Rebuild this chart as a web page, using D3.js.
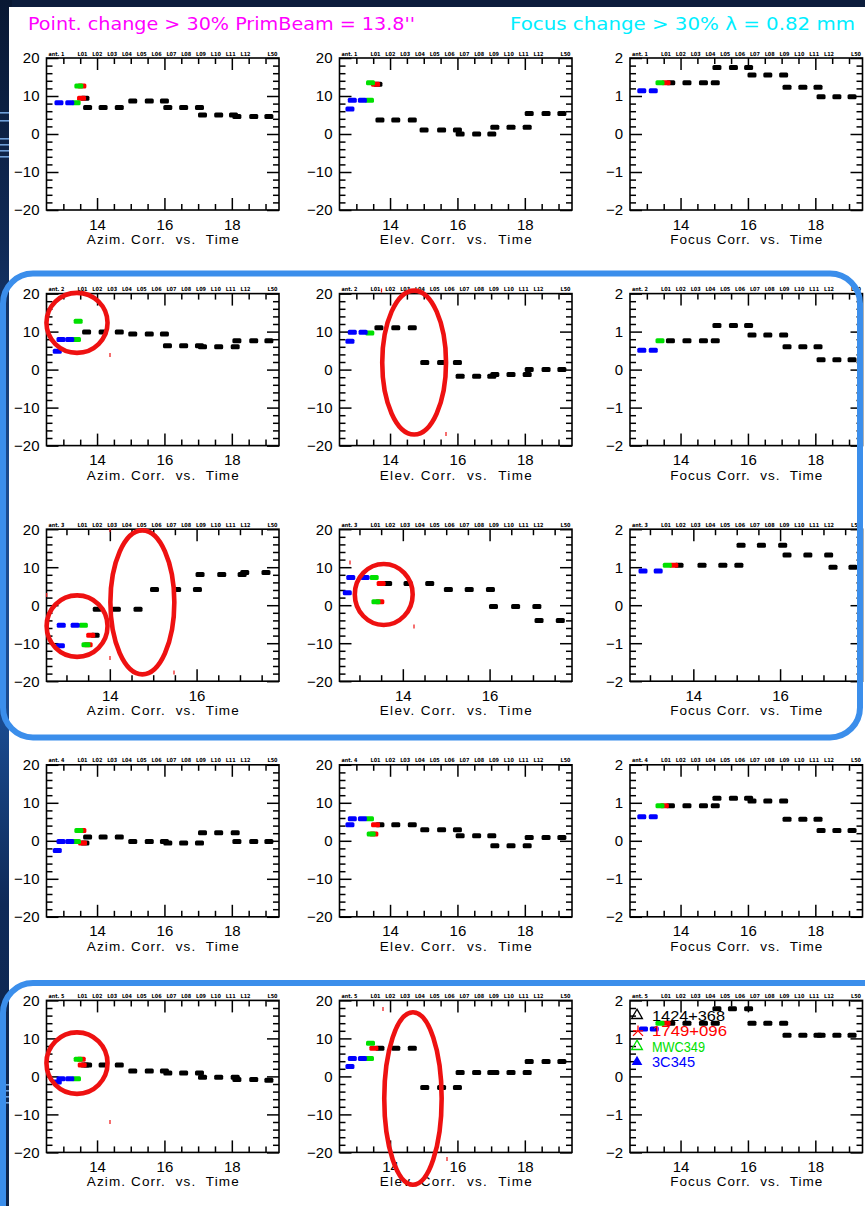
<!DOCTYPE html>
<html>
<head>
<meta charset="utf-8">
<script src="https://cdn.jsdelivr.net/npm/d3@7"></script>
<style>
  html, body { margin: 0; padding: 0; background: #0c1d3c; }
  svg { display: block; }
</style>
</head>
<body>
<svg id="chart" width="865" height="1206"></svg>
<script>
// ---- sources and labels ----
const sources = ["1424+368", "1749+096", "MWC349", "3C345"];
const sourceColors = ["#000000", "#ff0000", "#00e000", "#0000ff"];
const antennas = ["ant. 1", "ant. 2", "ant. 3", "ant. 4", "ant. 5"];
const scanLabels = ["L01", "L02", "L03", "L04", "L05", "L06", "L07", "L08", "L09", "L10", "L11", "L12"];
const lastScan = "L50";
const corrTitles = ["Azim. Corr.  vs.  Time", "Elev. Corr.  vs.  Time", "Focus Corr.  vs.  Time"];
const pointingTicks = [-20, -10, 0, 10, 20];
const focusTicks = [-2, -1, 0, 1, 2];
const hourTicks = [14, 16, 18];
const fullDay = [12.5, 19.4];
const shortDay = [12.54, 17.9];
const pointTitle = "Point. change > 30% PrimBeam = 13.8''";
const focusTitle = "Focus change > 30% \u03bb = 0.82 mm";

// ---- corrections: [hour, value, source index] ----
const ant1Azim = [
  [12.87, 8.2, 3], [13.19, 8.2, 3], [13.38, 8.2, 2], [13.46, 12.6, 2], [13.55, 12.6, 1],
  [13.54, 9.4, 1], [13.64, 9.4, 0],
  [13.72, 7.0, 0], [14.18, 7.0, 0], [14.66, 7.0, 0], [15.06, 8.7, 0], [15.55, 8.7, 0], [16.0, 8.7, 0],
  [16.1, 7.0, 0], [16.57, 7.0, 0], [17.04, 7.0, 0], [17.13, 5.0, 0], [17.61, 5.0, 0], [18.05, 5.0, 0],
  [18.15, 4.6, 0], [18.65, 4.6, 0], [19.1, 4.6, 0]
];
const ant1Elev = [
  [12.81, 6.6, 3], [12.88, 8.9, 3], [13.18, 8.9, 3], [13.39, 8.9, 2], [13.42, 13.5, 2], [13.57, 13.1, 1],
  [13.64, 13.1, 0], [13.7, 3.7, 0], [14.17, 3.7, 0], [14.66, 3.7, 0], [15.01, 1.05, 0], [15.53, 1.05, 0],
  [16.0, 1.05, 0], [16.08, 0, 0], [16.57, 0, 0], [17.02, 0, 0], [17.11, 1.8, 0], [17.59, 1.8, 0],
  [18.07, 1.8, 0], [18.13, 5.4, 0], [18.63, 5.4, 0], [19.1, 5.4, 0]
];
const ant1Focus = [
  [12.85, 1.14, 3], [13.19, 1.14, 3], [13.39, 1.35, 2], [13.57, 1.35, 1],
  [13.71, 1.35, 0], [14.19, 1.35, 0], [14.68, 1.35, 0], [15.03, 1.35, 0], [15.08, 1.75, 0], [15.57, 1.75, 0],
  [16.02, 1.75, 0], [16.12, 1.55, 0], [16.59, 1.55, 0], [17.06, 1.55, 0], [17.16, 1.23, 0], [17.63, 1.23, 0],
  [18.08, 1.23, 0], [18.17, 0.98, 0], [18.64, 0.98, 0], [19.09, 0.98, 0]
];
const ant2Azim = [
  [12.82, 4.8, 3], [12.93, 7.9, 3], [13.19, 7.9, 3], [13.39, 7.9, 2], [13.44, 12.7, 2],
  [13.69, 9.9, 0], [14.18, 9.9, 0], [14.66, 9.9, 0], [15.06, 9.4, 0], [15.55, 9.4, 0], [16.0, 9.4, 0],
  [16.09, 6.3, 0], [16.57, 6.3, 0], [17.04, 6.3, 0], [17.13, 6.0, 0], [17.61, 6.0, 0], [18.1, 6.0, 0],
  [18.15, 7.6, 0], [18.65, 7.6, 0], [19.1, 7.6, 0]
];
const ant2Elev = [
  [12.81, 7.45, 3], [12.88, 9.8, 3], [13.2, 9.8, 3], [13.4, 9.65, 2],
  [13.67, 11.0, 0], [14.17, 11.0, 0], [14.66, 11.0, 0], [15.03, 1.9, 0], [15.53, 1.9, 0], [16.0, 1.9, 0],
  [16.08, -1.75, 0], [16.57, -1.75, 0], [17.02, -1.75, 0], [17.11, -1.3, 0], [17.59, -1.3, 0], [18.07, -1.3, 0],
  [18.13, 0, 0], [18.63, 0, 0], [19.1, 0, 0]
];
const ant2Focus = [
  [12.85, 0.51, 3], [13.19, 0.51, 3], [13.39, 0.76, 2],
  [13.7, 0.76, 0], [14.19, 0.76, 0], [14.68, 0.76, 0], [15.03, 0.76, 0], [15.08, 1.16, 0], [15.57, 1.16, 0],
  [16.02, 1.16, 0], [16.12, 0.91, 0], [16.59, 0.91, 0], [17.06, 0.91, 0], [17.16, 0.6, 0], [17.63, 0.6, 0],
  [18.08, 0.6, 0], [18.17, 0.26, 0], [18.64, 0.26, 0], [19.09, 0.26, 0]
];
const ant3Azim = [
  [12.86, -10.7, 3], [12.88, -5.3, 3], [13.2, -5.3, 3], [13.39, -5.3, 2], [13.45, -10.4, 2],
  [13.5, -10.4, 1], [13.56, -7.9, 1], [13.66, -7.9, 0],
  [13.71, -1.05, 0], [14.15, -1.05, 0], [14.65, -1.05, 0], [15.03, 4.1, 0], [15.54, 4.1, 0], [16.02, 4.1, 0],
  [16.08, 8.1, 0], [16.58, 8.1, 0], [17.05, 8.1, 0], [17.11, 8.6, 0], [17.6, 8.6, 0]
];
const ant3Elev = [
  [12.72, 3.3, 3], [12.8, 7.3, 3], [13.13, 7.3, 3], [13.34, 7.3, 2], [13.38, 0.9, 2],
  [13.47, 0.9, 1], [13.5, 5.7, 1],
  [13.65, 5.7, 0], [14.12, 5.7, 0], [14.62, 5.7, 0], [15.05, 4.1, 0], [15.53, 4.1, 0], [16.02, 4.1, 0],
  [16.09, -0.35, 0], [16.6, -0.35, 0], [17.09, -0.35, 0], [17.14, -4.0, 0], [17.63, -4.0, 0]
];
const ant3Focus = [
  [12.84, 0.9, 3], [13.19, 0.9, 3], [13.4, 1.05, 2], [13.55, 1.05, 1],
  [13.67, 1.05, 0], [14.2, 1.05, 0], [14.68, 1.05, 0], [15.05, 1.05, 0], [15.1, 1.58, 0], [15.57, 1.58, 0],
  [16.06, 1.58, 0], [16.16, 1.32, 0], [16.64, 1.32, 0], [17.12, 1.32, 0], [17.22, 1.0, 0], [17.68, 1.0, 0]
];
const ant4Azim = [
  [12.82, -2.55, 3], [12.93, -0.2, 3], [13.19, -0.2, 3], [13.39, -0.2, 2], [13.46, 2.7, 2],
  [13.55, 2.7, 1], [13.57, -0.6, 1], [13.64, -0.6, 0],
  [13.72, 1.0, 0], [14.18, 1.0, 0], [14.66, 1.0, 0], [15.06, -0.2, 0], [15.55, -0.2, 0], [16.0, -0.2, 0],
  [16.1, -0.6, 0], [16.57, -0.6, 0], [17.04, -0.6, 0], [17.13, 2.1, 0], [17.61, 2.1, 0], [18.1, 2.1, 0],
  [18.15, -0.2, 0], [18.65, -0.2, 0], [19.1, -0.2, 0]
];
const ant4Elev = [
  [12.81, 4.2, 3], [12.88, 5.8, 3], [13.18, 5.8, 3], [13.39, 5.8, 2], [13.44, 1.8, 2],
  [13.52, 1.8, 1], [13.57, 4.2, 1],
  [13.7, 4.2, 0], [14.17, 4.2, 0], [14.66, 4.2, 0], [15.03, 2.9, 0], [15.53, 2.9, 0], [16.0, 2.9, 0],
  [16.08, 1.3, 0], [16.57, 1.3, 0], [17.02, 1.3, 0], [17.11, -1.3, 0], [17.59, -1.3, 0], [18.07, -1.3, 0],
  [18.13, 0.9, 0], [18.63, 0.9, 0], [19.1, 0.9, 0]
];
const ant4Focus = [
  [12.85, 0.63, 3], [13.19, 0.63, 3], [13.39, 0.92, 2], [13.52, 0.92, 1],
  [13.7, 0.92, 0], [14.19, 0.92, 0], [14.68, 0.92, 0], [15.03, 0.92, 0], [15.08, 1.12, 0], [15.57, 1.12, 0],
  [16.02, 1.12, 0], [16.12, 1.05, 0], [16.59, 1.05, 0], [17.06, 1.05, 0], [17.16, 0.57, 0], [17.63, 0.57, 0],
  [18.08, 0.57, 0], [18.17, 0.27, 0], [18.64, 0.27, 0], [19.09, 0.27, 0]
];
const ant5Azim = [
  [12.82, -1.5, 3], [12.93, -0.6, 3], [13.19, -0.6, 3], [13.39, -0.6, 2], [13.44, 4.5, 2],
  [13.53, 4.5, 1], [13.56, 3.0, 1], [13.64, 3.0, 0],
  [13.72, 3.0, 0], [14.18, 3.0, 0], [14.66, 3.0, 0], [15.06, 1.4, 0], [15.55, 1.4, 0], [16.0, 1.4, 0],
  [16.1, 0.9, 0], [16.57, 0.9, 0], [17.04, 0.9, 0], [17.13, -0.2, 0], [17.61, -0.2, 0], [18.1, -0.2, 0],
  [18.15, -0.8, 0], [18.65, -0.8, 0], [19.1, -1.0, 0]
];
const ant5Elev = [
  [12.81, 2.6, 3], [12.88, 4.7, 3], [13.18, 4.7, 3], [13.39, 4.7, 2], [13.42, 8.7, 2], [13.52, 7.4, 1],
  [13.7, 7.4, 0], [14.17, 7.4, 0], [14.66, 7.4, 0], [15.03, -2.9, 0], [15.53, -2.9, 0], [16.0, -2.9, 0],
  [16.08, 1.05, 0], [16.57, 1.05, 0], [17.02, 1.05, 0], [17.11, 1.05, 0], [17.59, 1.05, 0], [18.07, 1.05, 0],
  [18.13, 3.9, 0], [18.63, 3.9, 0], [19.1, 3.9, 0]
];
const ant5Focus = [
  [12.9, 1.25, 3], [13.22, 1.25, 3], [13.39, 1.4, 2], [13.57, 1.4, 1],
  [13.71, 1.4, 0], [14.19, 1.4, 0], [14.68, 1.4, 0], [15.03, 1.4, 0], [15.08, 1.78, 0], [15.54, 1.78, 0],
  [16.02, 1.78, 0], [16.12, 1.4, 0], [16.59, 1.4, 0], [17.06, 1.4, 0], [17.16, 1.08, 0], [17.63, 1.08, 0],
  [18.08, 1.08, 0], [18.17, 1.08, 0], [18.64, 1.08, 0], [19.09, 1.08, 0]
];

// highlighted groups: [row, col, hour from, hour to, value from, value to]
const highlights = [
  [1, 0, 12.43, 14.38, 3.8, 20.8],
  [1, 1, 13.70, 15.73, -17.7, 21.4],
  [2, 0, 12.49, 14.00, -14.2, 3.2],
  [2, 0, 13.96, 15.54, -18.8, 20.3],
  [2, 1, 12.84, 14.28, -5.8, 11.45],
  [4, 0, 12.43, 14.38, -5.2, 12.2],
  [4, 1, 13.76, 15.60, -29.1, 17.5]
];
// stray pen marks left by the highlighter: [x, y] on the page
const penMarks = [
  [110, 355], [381.5, 290.5], [446, 434], [110, 530], [110, 658], [174, 672.5], [46.7, 595],
  [350, 562.5], [414, 626.5], [110, 1122], [383, 1009], [447, 1159]
];

const panelRows = [
  [ant1Azim, ant1Elev, ant1Focus],
  [ant2Azim, ant2Elev, ant2Focus],
  [ant3Azim, ant3Elev, ant3Focus],
  [ant4Azim, ant4Elev, ant4Focus],
  [ant5Azim, ant5Elev, ant5Focus]
];
const rowDays = [fullDay, fullDay, shortDay, fullDay, fullDay];

// ---- layout ----
const colLeft = [46.5, 339.5, 630];
const rowTop = [58, 293.6, 529.2, 764.8, 1000.4];
const W = 232.5, H = 152;
const FONT = "'Liberation Sans', Arial, sans-serif";

const svg = d3.select("#chart");
const defs = svg.append("defs");

// backdrop
svg.append("rect").attr("width", 865).attr("height", 1206).attr("fill", "#0c1d3c");
const strip = defs.append("linearGradient").attr("id", "strip")
  .attr("x1", 0).attr("y1", 0).attr("x2", 0).attr("y2", 1);
[[0, "#091833"], [0.2, "#102a55"], [0.4, "#1a4a8e"], [0.6, "#1a4a8e"], [0.75, "#0f2a58"], [1, "#0d2348"]]
  .forEach(([o, c]) => strip.append("stop").attr("offset", o).attr("stop-color", c));
svg.append("rect").attr("x", 0).attr("y", 0).attr("width", 12).attr("height", 1206).attr("fill", "url(#strip)");
[112, 120, 138, 144, 150, 156, 1084, 1090, 1096, 1102].forEach(yy =>
  svg.append("rect").attr("x", 0).attr("y", yy).attr("width", 10).attr("height", 1.6).attr("fill", "#6f9fd8"));

// paper
svg.append("rect").attr("x", 9).attr("y", 7).attr("width", 856).attr("height", 1199).attr("fill", "#ffffff");

// headline
svg.append("text").attr("x", 28).attr("y", 30)
  .attr("font-family", "'DejaVu Sans', sans-serif").attr("font-size", 17)
  .attr("fill", "#ff00ff").attr("textLength", 387).attr("lengthAdjust", "spacingAndGlyphs")
  .text(pointTitle);
svg.append("text").attr("x", 510).attr("y", 30)
  .attr("font-family", "'DejaVu Sans', sans-serif").attr("font-size", 17)
  .attr("fill", "#00eeff").attr("textLength", 345).attr("lengthAdjust", "spacingAndGlyphs")
  .text(focusTitle);

function styleAxis(sel) {
  sel.select(".domain").remove();
  sel.selectAll(".tick line").attr("stroke", "#000").attr("stroke-width", 1.5);
  sel.selectAll(".tick text").attr("font-family", FONT).attr("font-size", 15).attr("fill", "#000");
}

const scales = [];
panelRows.forEach((row, r) => {
  row.forEach((data, c) => {
    const isFocus = c === 2;
    const day = rowDays[r];
    const x = d3.scaleLinear().domain(day).range([0, W]);
    const y = d3.scaleLinear().domain(isFocus ? [-2, 2] : [-20, 20]).range([H, 0]);
    scales.push({ r, c, x, y });

    const g = svg.append("g").attr("transform", `translate(${colLeft[c]},${rowTop[r]})`);

    const majorY = isFocus ? focusTicks : pointingTicks;
    const minorY = isFocus
      ? d3.range(-10, 11).filter(i => i % 5 !== 0).map(i => i * 0.2)
      : d3.range(-20, 21, 2).filter(v => v % 10 !== 0);
    const minorX = d3.range(25, 40).map(i => i / 2)
      .filter(t => t > day[0] && t < day[1] && !hourTicks.includes(t));
    const majorX = hourTicks.filter(t => t < day[1]);

    const fmtY = d => d < 0 ? "\u2212" + Math.abs(d) : String(d);

    // left axis with labels
    g.append("g").call(d3.axisLeft(y).tickValues(majorY).tickSize(-12).tickPadding(7).tickFormat(fmtY)).call(styleAxis);
    g.append("g").call(d3.axisLeft(y).tickValues(minorY).tickSize(-6).tickFormat("")).call(styleAxis);
    // right axis
    g.append("g").attr("transform", `translate(${W},0)`)
      .call(d3.axisRight(y).tickValues(majorY).tickSize(-12).tickFormat("")).call(styleAxis);
    g.append("g").attr("transform", `translate(${W},0)`)
      .call(d3.axisRight(y).tickValues(minorY).tickSize(-6).tickFormat("")).call(styleAxis);
    // bottom axis with labels
    g.append("g").attr("transform", `translate(0,${H})`)
      .call(d3.axisBottom(x).tickValues(majorX).tickSize(-12).tickPadding(9).tickFormat(d3.format("d")))
      .call(styleAxis);
    g.append("g").attr("transform", `translate(0,${H})`)
      .call(d3.axisBottom(x).tickValues(minorX).tickSize(-6).tickFormat("")).call(styleAxis);
    // top axis
    g.append("g").call(d3.axisTop(x).tickValues(majorX).tickSize(-12).tickFormat("")).call(styleAxis);
    g.append("g").call(d3.axisTop(x).tickValues(minorX).tickSize(-6).tickFormat("")).call(styleAxis);

    // frame
    g.append("rect").attr("width", W).attr("height", H)
      .attr("fill", "none").attr("stroke", "#000").attr("stroke-width", 1.6);

    // scan header
    const header = g.append("g").attr("font-family", "'DejaVu Sans', sans-serif")
      .attr("font-size", 5.6).attr("font-weight", "bold").attr("fill", "#000");
    header.append("text").attr("x", 2).attr("y", -2.5)
      .attr("textLength", 16).attr("lengthAdjust", "spacingAndGlyphs").text(antennas[r]);
    const scanPos = d3.scalePoint().domain(scanLabels).range([36, 199]);
    header.selectAll("text.scan").data(scanLabels).join("text").attr("class", "scan")
      .attr("x", d => scanPos(d)).attr("y", -2.5).attr("text-anchor", "middle")
      .attr("textLength", 10).attr("lengthAdjust", "spacingAndGlyphs").text(d => d);
    header.append("text").attr("x", 226).attr("y", -2.5).attr("text-anchor", "middle")
      .attr("textLength", 10).attr("lengthAdjust", "spacingAndGlyphs").text(lastScan);

    // corrections, drawn source by source
    const ordered = data.slice().sort((a, b) => a[2] - b[2]);
    g.selectAll("rect.pt").data(ordered).join("rect").attr("class", "pt")
      .attr("x", d => x(d[0]) - 4.5).attr("y", d => y(d[1]) - 2.5)
      .attr("width", 9).attr("height", 5).attr("rx", 1.5)
      .attr("fill", d => sourceColors[d[2]]);

    // caption
    g.append("text").attr("x", W / 2).attr("y", H + 34).attr("text-anchor", "middle")
      .attr("font-family", FONT).attr("font-size", 13.5).attr("fill", "#000")
      .attr("textLength", 152).attr("lengthAdjust", "spacing")
      .style("white-space", "pre").text(corrTitles[c]);
  });
});

// legend in the last focus panel
{
  const lg = svg.append("g").attr("transform", `translate(${colLeft[2]},${rowTop[4]})`);
  const rowsY = [15, 30.5, 46, 61.5];
  const widths = [73, 75, 53, 43];
  const tri = d3.symbol().type(d3.symbolTriangle).size(50);
  lg.append("path").attr("d", tri()).attr("transform", `translate(7,${rowsY[0]})`)
    .attr("fill", "none").attr("stroke", sourceColors[0]).attr("stroke-width", 1.3);
  lg.append("path").attr("d", "M0,-5.5 L0,0 M0,0 L-5,5 M0,0 L5,5 M-5,0 L5,0")
    .attr("transform", `translate(8,${rowsY[1]})`)
    .attr("fill", "none").attr("stroke", sourceColors[1]).attr("stroke-width", 1.3);
  lg.append("path").attr("d", tri()).attr("transform", `translate(7,${rowsY[2]})`)
    .attr("fill", "none").attr("stroke", sourceColors[2]).attr("stroke-width", 1.3);
  lg.append("path").attr("d", tri()).attr("transform", `translate(7,${rowsY[3]})`)
    .attr("fill", sourceColors[3]);
  lg.selectAll("text.lab").data(sources).join("text").attr("class", "lab")
    .attr("x", 22).attr("y", (d, i) => rowsY[i] + 5.5)
    .attr("font-family", FONT).attr("font-size", 15)
    .attr("fill", (d, i) => sourceColors[i])
    .attr("textLength", (d, i) => widths[i]).attr("lengthAdjust", "spacingAndGlyphs")
    .text(d => d);
}

// red highlight rings
highlights.forEach(([r, c, t0, t1, v0, v1]) => {
  const s = scales.find(p => p.r === r && p.c === c);
  const xa = colLeft[c] + s.x(t0), xb = colLeft[c] + s.x(t1);
  const ya = rowTop[r] + s.y(v1), yb = rowTop[r] + s.y(v0);
  svg.append("ellipse")
    .attr("cx", (xa + xb) / 2).attr("cy", (ya + yb) / 2)
    .attr("rx", (xb - xa) / 2 - 2.3).attr("ry", (yb - ya) / 2 - 2.3)
    .attr("fill", "none").attr("stroke", "#ee1111").attr("stroke-width", 4.6);
});
svg.selectAll("rect.pen").data(penMarks).join("rect").attr("class", "pen")
  .attr("x", d => d[0] - 0.6).attr("y", d => d[1] - 2)
  .attr("width", 1.2).attr("height", 4).attr("fill", "#ee1111");

// blue rounded frames
svg.append("rect").attr("x", 3).attr("y", 273.5).attr("width", 857).attr("height", 464).attr("rx", 30)
  .attr("fill", "none").attr("stroke", "#3b8eeb").attr("stroke-width", 6);
svg.append("rect").attr("x", 3).attr("y", 983).attr("width", 900).attr("height", 300).attr("rx", 30)
  .attr("fill", "none").attr("stroke", "#3b8eeb").attr("stroke-width", 6);
</script>
</body>
</html>
